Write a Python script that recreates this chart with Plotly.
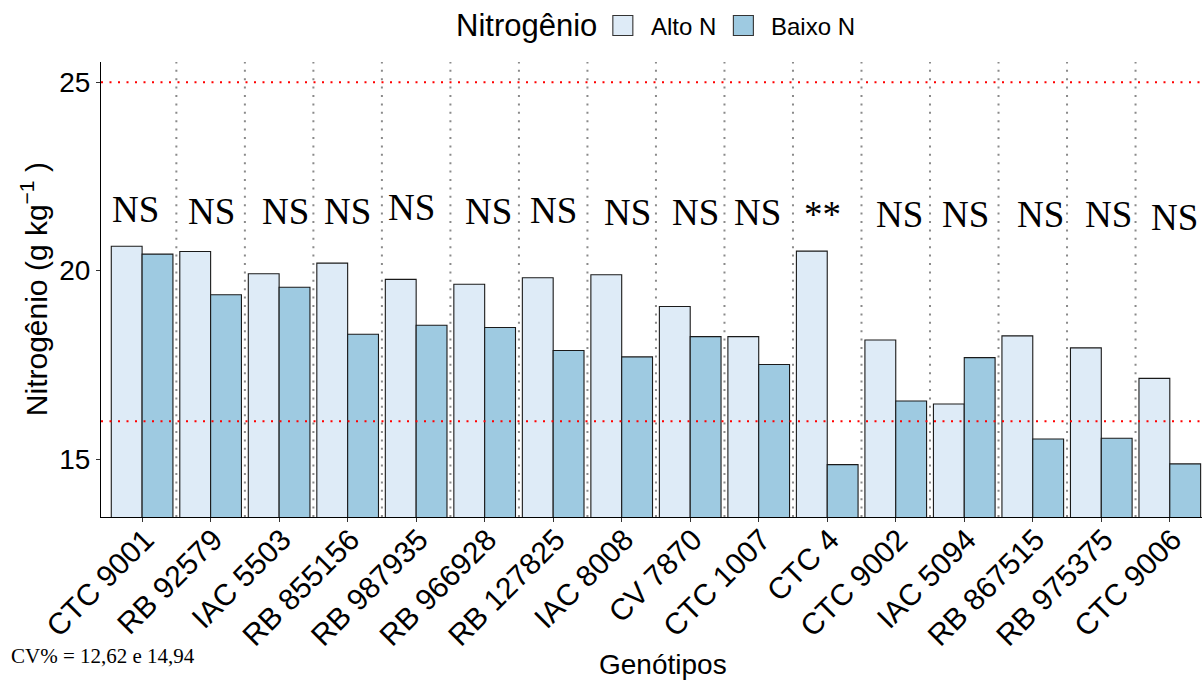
import plotly.graph_objects as go

genotypes = ["CTC 9001", "RB 92579", "IAC 5503", "RB 855156", "RB 987935", "RB 966928",
             "RB 127825", "IAC 8008", "CV 7870", "CTC 1007", "CTC 4", "CTC 9002",
             "IAC 5094", "RB 867515", "RB 975375", "CTC 9006"]
alto_n = [20.65, 20.51, 19.92, 20.20, 19.77, 19.64, 19.81, 19.89, 19.05, 18.25,
          20.52, 18.16, 16.46, 18.27, 17.95, 17.14]
baixo_n = [20.44, 19.36, 19.56, 18.31, 18.55, 18.49, 17.88, 17.71, 18.25, 17.51,
           14.85, 16.54, 17.69, 15.53, 15.55, 14.87]
signif = ["NS"] * 10 + ["**"] + ["NS"] * 5
label_y = [21.63, 21.58, 21.58, 21.58, 21.67, 21.58, 21.61, 21.54, 21.54, 21.54,
           21.50, 21.50, 21.50, 21.50, 21.50, 21.40]
label_dx = [-0.09, 0.02, 0.10, 0.0, -0.07, 0.05, 0.0, 0.08, 0.08, -0.02,
            -0.07, 0.05, 0.02, 0.11, 0.10, 0.07]
ref_lines = [16, 25]
y_ticks = [15, 20, 25]
series_names = ["Alto N", "Baixo N"]
series_colors = ["#DEEBF7", "#9ECAE1"]
legend_title = "Nitrogênio"
caption = "CV% = 12,62 e 14,94"

SANS = "Liberation Sans, Arial, sans-serif"
SERIF = "Liberation Serif, Times New Roman, serif"

# plot area in pixels (for paper-coordinate helpers of non-data decorations)
L, R, T, B = 101.3, 1202.0, 62.0, 517.3
PW, PH = R - L, B - T


def px(xp):
    return (xp - L) / PW


def py(yp):
    return 1 + (T - yp) / PH


xpos = list(range(len(genotypes)))

fig = go.Figure()
for name, vals, col in zip(series_names, [alto_n, baixo_n], series_colors):
    fig.add_trace(go.Bar(x=xpos, y=vals, name=name, showlegend=False,
                         marker=dict(color=col, line=dict(color="#1a1a1a", width=1.1))))

shapes = []
for k in range(len(genotypes) - 1):
    shapes.append(dict(type="line", xref="x", yref="paper", x0=k + 0.5, x1=k + 0.5,
                       y0=0, y1=1, layer="below",
                       line=dict(color="#8a8a8a", width=2, dash="2px,6.4px")))
for v in ref_lines:
    shapes.append(dict(type="line", xref="paper", yref="y", x0=0, x1=1, y0=v, y1=v,
                       layer="above", line=dict(color="#FF0000", width=2, dash="2px,6.5px")))

annotations = []
for i, (s, ly, dx) in enumerate(zip(signif, label_y, label_dx)):
    annotations.append(dict(x=i + dx, y=ly, xref="x", yref="y", text=s, showarrow=False,
                            xanchor="center", yanchor="middle",
                            font=dict(family=SERIF, size=37, color="black")))

# axis titles and caption
annotations.append(dict(x=px(663), y=py(665.3), xref="paper", yref="paper", text="Genótipos",
                        showarrow=False, xanchor="center", yanchor="middle",
                        font=dict(family=SANS, size=28, color="black")))
annotations.append(dict(x=px(55), y=0.5, xref="paper", yref="paper",
                        text="Nitrogênio (g kg<sup>−1</sup> )", textangle=-90,
                        showarrow=False, xanchor="right", yanchor="middle",
                        font=dict(family=SANS, size=30, color="black")))
annotations.append(dict(x=px(9), y=py(656), xref="paper", yref="paper", text=caption,
                        showarrow=False, xanchor="left", yanchor="middle",
                        font=dict(family=SERIF, size=21, color="black")))

# legend (top, horizontal)
annotations.append(dict(x=px(454.5), y=py(36.7 - 0.3465 * 31), xref="paper", yref="paper",
                        text=legend_title, showarrow=False, xanchor="left", yanchor="middle",
                        font=dict(family=SANS, size=31, color="black")))
key_left = [613.0, 733.5]
text_left = [650.7, 770.7]
for name, col, kx, tx in zip(series_names, series_colors, key_left, text_left):
    shapes.append(dict(type="rect", xref="paper", yref="paper",
                       x0=px(kx), x1=px(kx + 20), y0=py(35.5), y1=py(15.5),
                       fillcolor=col, line=dict(color="#333333", width=1.1), layer="above"))
    annotations.append(dict(x=px(tx - 2), y=py(35 - 0.3465 * 24), xref="paper", yref="paper",
                            text=name, showarrow=False, xanchor="left", yanchor="middle",
                            font=dict(family=SANS, size=24, color="black")))

fig.update_layout(
    width=1202, height=684,
    margin=dict(l=L, r=1202 - R, t=T, b=684 - B, pad=0),
    paper_bgcolor="white", plot_bgcolor="white",
    barmode="group", bargap=0.1, bargroupgap=0,
    shapes=shapes, annotations=annotations,
    showlegend=False,
    xaxis=dict(type="linear", range=[-0.6, 15.47], tickmode="array", tickvals=xpos,
               ticktext=genotypes, tickangle=-45, showgrid=False, zeroline=False,
               showline=True, linecolor="black", linewidth=1.2,
               ticks="outside", ticklen=4, tickcolor="#333333", tickwidth=1,
               ticklabelstandoff=-12, ticklabelshift=3,
               tickfont=dict(family=SANS, size=30, color="black")),
    yaxis=dict(range=[13.46, 25.54], tickmode="array", tickvals=y_ticks,
               showgrid=False, zeroline=False, showline=True, linecolor="black",
               linewidth=1.2, ticks="outside", ticklen=4, tickcolor="#333333", tickwidth=1,
               tickfont=dict(family=SANS, size=28, color="black")),
)

fig.write_html("out.html")
